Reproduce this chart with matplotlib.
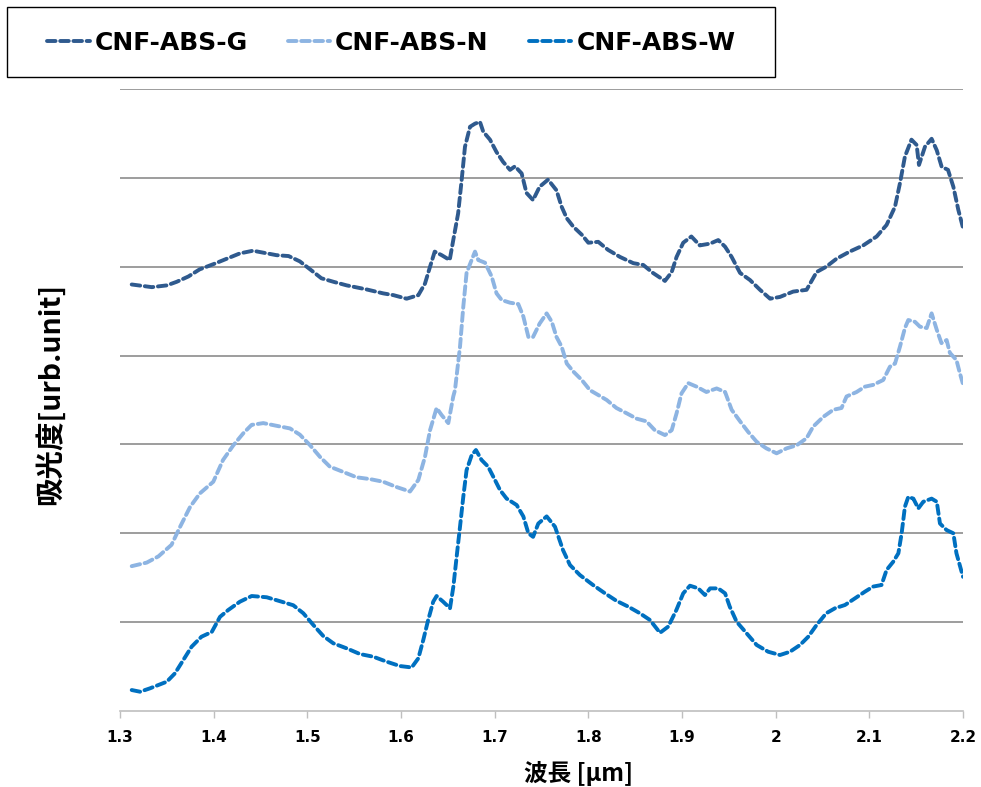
"""
NIR absorbance spectra of the three CNF-ABS samples (offset for clarity).
"""

import matplotlib
matplotlib.use("Agg")
import matplotlib.pyplot as plt
import matplotlib.patches as mpatches

plt.rcParams.update({
    "font.family": ["DejaVu Sans"],
    "font.weight": "bold",
    "figure.dpi": 100,
})

CJK = ["Noto Sans CJK JP", "DejaVu Sans"]

# wavelength [um] / absorbance (arbitrary offset units)
wl_g = [1.3125, 1.334, 1.350, 1.3605, 1.373, 1.385, 1.400, 1.414, 1.428, 1.442,
        1.457, 1.467, 1.480, 1.492, 1.503, 1.515, 1.528, 1.542, 1.563, 1.581,
        1.592, 1.606, 1.6185, 1.6256, 1.631, 1.636, 1.6434, 1.652, 1.6558, 1.661,
        1.6648, 1.6683, 1.6737, 1.679, 1.6843, 1.6878, 1.695, 1.702, 1.709, 1.7164,
        1.7217, 1.7288, 1.734, 1.741, 1.748, 1.757, 1.766, 1.7715, 1.777, 1.784,
        1.793, 1.800, 1.8106, 1.821, 1.8338, 1.848, 1.8586, 1.869, 1.8818, 1.889,
        1.8942, 1.9013, 1.910, 1.919, 1.930, 1.9387, 1.946, 1.953, 1.962, 1.9726,
        1.9833, 1.994, 2.0046, 2.0187, 2.033, 2.0437, 2.054, 2.065, 2.079, 2.0935,
        2.1078, 2.1184, 2.1274, 2.1327, 2.138, 2.145, 2.1505, 2.153, 2.1594, 2.1665,
        2.172, 2.1772, 2.184, 2.1897, 2.195, 2.1997]
abs_g = [4.80, 4.77, 4.79, 4.83, 4.89, 4.97, 5.03, 5.09, 5.15, 5.18,
         5.15, 5.13, 5.12, 5.06, 4.97, 4.87, 4.83, 4.79, 4.745, 4.70,
         4.68, 4.64, 4.68, 4.81, 5.00, 5.17, 5.13, 5.075, 5.30, 5.60,
         5.98, 6.35, 6.575, 6.61, 6.63, 6.52, 6.43, 6.29, 6.18, 6.09,
         6.13, 6.05, 5.83, 5.75, 5.90, 5.98, 5.86, 5.675, 5.545, 5.45,
         5.36, 5.27, 5.28, 5.19, 5.11, 5.04, 5.02, 4.93, 4.84, 4.94,
         5.11, 5.27, 5.34, 5.24, 5.26, 5.30, 5.225, 5.11, 4.93, 4.85,
         4.74, 4.64, 4.66, 4.72, 4.74, 4.94, 5.00, 5.09, 5.17, 5.24,
         5.34, 5.47, 5.675, 5.94, 6.24, 6.43, 6.37, 6.145, 6.35, 6.44,
         6.31, 6.125, 6.09, 5.90, 5.64, 5.45]

wl_n = [1.3125, 1.3285, 1.341, 1.355, 1.364, 1.375, 1.3854, 1.3996, 1.410, 1.421,
        1.4316, 1.4405, 1.453, 1.467, 1.4815, 1.492, 1.503, 1.5135, 1.524, 1.5384,
        1.5526, 1.5669, 1.581, 1.5954, 1.6096, 1.6185, 1.6256, 1.631, 1.638, 1.6434,
        1.6505, 1.6558, 1.6576, 1.663, 1.6665, 1.670, 1.6754, 1.679, 1.6825, 1.6897,
        1.6968, 1.702, 1.7075, 1.7164, 1.7252, 1.7306, 1.736, 1.741, 1.748, 1.7555,
        1.761, 1.766, 1.7715, 1.777, 1.784, 1.793, 1.8018, 1.8106, 1.8196, 1.830,
        1.841, 1.8516, 1.862, 1.871, 1.8818, 1.889, 1.8942, 1.8995, 1.9067, 1.9156,
        1.926, 1.937, 1.946, 1.953, 1.962, 1.9707, 1.9797, 1.990, 2.001, 2.0117,
        2.0224, 2.033, 2.040, 2.0508, 2.0615, 2.0703, 2.0757, 2.0864, 2.0953, 2.104,
        2.1148, 2.122, 2.1274, 2.1327, 2.138, 2.1416, 2.1487, 2.154, 2.1612, 2.1665,
        2.172, 2.177, 2.1825, 2.186, 2.193, 2.1967, 2.1997]
abs_n = [1.63, 1.67, 1.74, 1.87, 2.07, 2.30, 2.45, 2.58, 2.825, 2.99,
         3.125, 3.22, 3.24, 3.21, 3.18, 3.11, 2.99, 2.86, 2.75, 2.69,
         2.63, 2.61, 2.58, 2.52, 2.47, 2.60, 2.86, 3.16, 3.41, 3.33,
         3.24, 3.54, 3.61, 4.10, 4.55, 4.93, 5.075, 5.17, 5.075, 5.045,
         4.89, 4.70, 4.625, 4.595, 4.58, 4.44, 4.21, 4.21, 4.36, 4.475,
         4.38, 4.21, 4.10, 3.91, 3.82, 3.725, 3.61, 3.556, 3.50, 3.41,
         3.35, 3.29, 3.26, 3.16, 3.105, 3.16, 3.35, 3.575, 3.69, 3.65,
         3.59, 3.63, 3.59, 3.39, 3.26, 3.14, 3.03, 2.956, 2.90, 2.956,
         2.99, 3.07, 3.20, 3.31, 3.39, 3.41, 3.54, 3.59, 3.65, 3.67,
         3.725, 3.875, 3.91, 4.10, 4.31, 4.40, 4.38, 4.325, 4.31, 4.475,
         4.29, 4.14, 4.175, 4.03, 3.95, 3.80, 3.69]

wl_w = [1.3125, 1.3214, 1.332, 1.350, 1.3587, 1.3676, 1.3765, 1.387, 1.398, 1.4068,
        1.4156, 1.428, 1.4406, 1.4566, 1.4726, 1.485, 1.4957, 1.5064, 1.517, 1.5277,
        1.542, 1.5562, 1.5704, 1.5847, 1.5989, 1.6114, 1.6185, 1.6238, 1.629, 1.6344,
        1.638, 1.645, 1.6523, 1.6559, 1.6594, 1.663, 1.6665, 1.670, 1.6755, 1.680,
        1.686, 1.693, 1.7003, 1.7057, 1.7128, 1.7235, 1.7306, 1.736, 1.741, 1.7466,
        1.7555, 1.7644, 1.773, 1.7804, 1.791, 1.805, 1.8178, 1.830, 1.8427, 1.855,
        1.8658, 1.8765, 1.8853, 1.894, 1.9013, 1.9085, 1.9174, 1.9245, 1.930, 1.9387,
        1.946, 1.951, 1.9583, 1.969, 1.9797, 1.992, 2.0046, 2.0153, 2.026, 2.0348,
        2.0437, 2.054, 2.0633, 2.074, 2.0847, 2.0953, 2.104, 2.113, 2.1184, 2.1255,
        2.131, 2.1345, 2.138, 2.1416, 2.147, 2.1523, 2.1576, 2.1665, 2.172, 2.1754,
        2.1825, 2.1897, 2.193, 2.197, 2.2]
abs_w = [0.236, 0.217, 0.255, 0.33, 0.424, 0.574, 0.724, 0.836, 0.89, 1.06,
         1.137, 1.23, 1.294, 1.28, 1.23, 1.19, 1.10, 0.968, 0.844, 0.762,
         0.705, 0.641, 0.611, 0.555, 0.506, 0.49, 0.593, 0.80, 1.024, 1.23,
         1.294, 1.23, 1.156, 1.40, 1.736, 2.074, 2.41, 2.71, 2.88, 2.937,
         2.825, 2.75, 2.60, 2.487, 2.39, 2.318, 2.19, 2.00, 1.96, 2.11,
         2.19, 2.074, 1.81, 1.643, 1.53, 1.418, 1.324, 1.24, 1.174, 1.10,
         1.024, 0.88, 0.95, 1.137, 1.324, 1.41, 1.38, 1.305, 1.38, 1.38,
         1.324, 1.174, 1.005, 0.874, 0.743, 0.667, 0.63, 0.667, 0.743, 0.836,
         0.968, 1.10, 1.156, 1.193, 1.268, 1.343, 1.40, 1.418, 1.587, 1.68,
         1.775, 2.00, 2.30, 2.41, 2.39, 2.28, 2.355, 2.39, 2.355, 2.11,
         2.036, 2.00, 1.775, 1.624, 1.51]

series = [
    ("CNF-ABS-G", wl_g, abs_g, "#2F5A8E"),
    ("CNF-ABS-N", wl_n, abs_n, "#8DB4E2"),
    ("CNF-ABS-W", wl_w, abs_w, "#0070C0"),
]

xticks = [1.3, 1.4, 1.5, 1.6, 1.7, 1.8, 1.9, 2.0, 2.1, 2.2]
xticklabels = ["1.3", "1.4", "1.5", "1.6", "1.7", "1.8", "1.9", "2", "2.1", "2.2"]

W, H = 981, 787
fig = plt.figure(figsize=(W / 100, H / 100))
ax = fig.add_axes([120 / W, 76 / H, 843 / W, 622 / H])

for name, x, y, color in series:
    ax.plot(x, y, color=color, lw=2.8, dashes=(2.2, 1.2),
            dash_capstyle="round", label=name)

ax.set_xlim(1.3, 2.2)
ax.set_ylim(0, 7)
ax.set_yticks(range(1, 8))
ax.yaxis.grid(True, color="#8C8C8C", lw=1.2)
ax.set_axisbelow(True)
ax.tick_params(axis="y", left=False, labelleft=False)

ax.set_xticks(xticks)
ax.set_xticklabels(xticklabels, fontsize=11, fontweight="bold")
ax.tick_params(axis="x", direction="out", length=5, width=1,
               color="#BFBFBF", pad=9)

for side in ["left", "right", "top"]:
    ax.spines[side].set_visible(False)
ax.spines["bottom"].set_color("#BFBFBF")
ax.spines["bottom"].set_linewidth(1.2)

fig.text(578 / W, 1 - 773 / H, "波長 [μm]", family=CJK, fontsize=17,
         fontweight="bold", ha="center", va="center")
fig.text(50 / W, 1 - 394 / H, "吸光度[urb.unit]", family=CJK, fontsize=20.5,
         fontweight="bold", ha="center", va="center", rotation=90)

# legend frame drawn by hand so the box can be wider than the entries need
frame = mpatches.Rectangle((7 / W, 1 - 77 / H), 768 / W, 70 / H,
                           transform=fig.transFigure, facecolor="white",
                           edgecolor="black", linewidth=1.0)
fig.patches.append(frame)

leg = fig.legend(loc="center left", bbox_to_anchor=(47 / W, 1 - 43 / H),
                 ncol=3, frameon=False, fontsize=18,
                 handlelength=1.7, handletextpad=0.2, columnspacing=1.6,
                 borderpad=0, borderaxespad=0)
for t in leg.get_texts():
    t.set_fontweight("bold")

fig.savefig("out.png", dpi=100)
